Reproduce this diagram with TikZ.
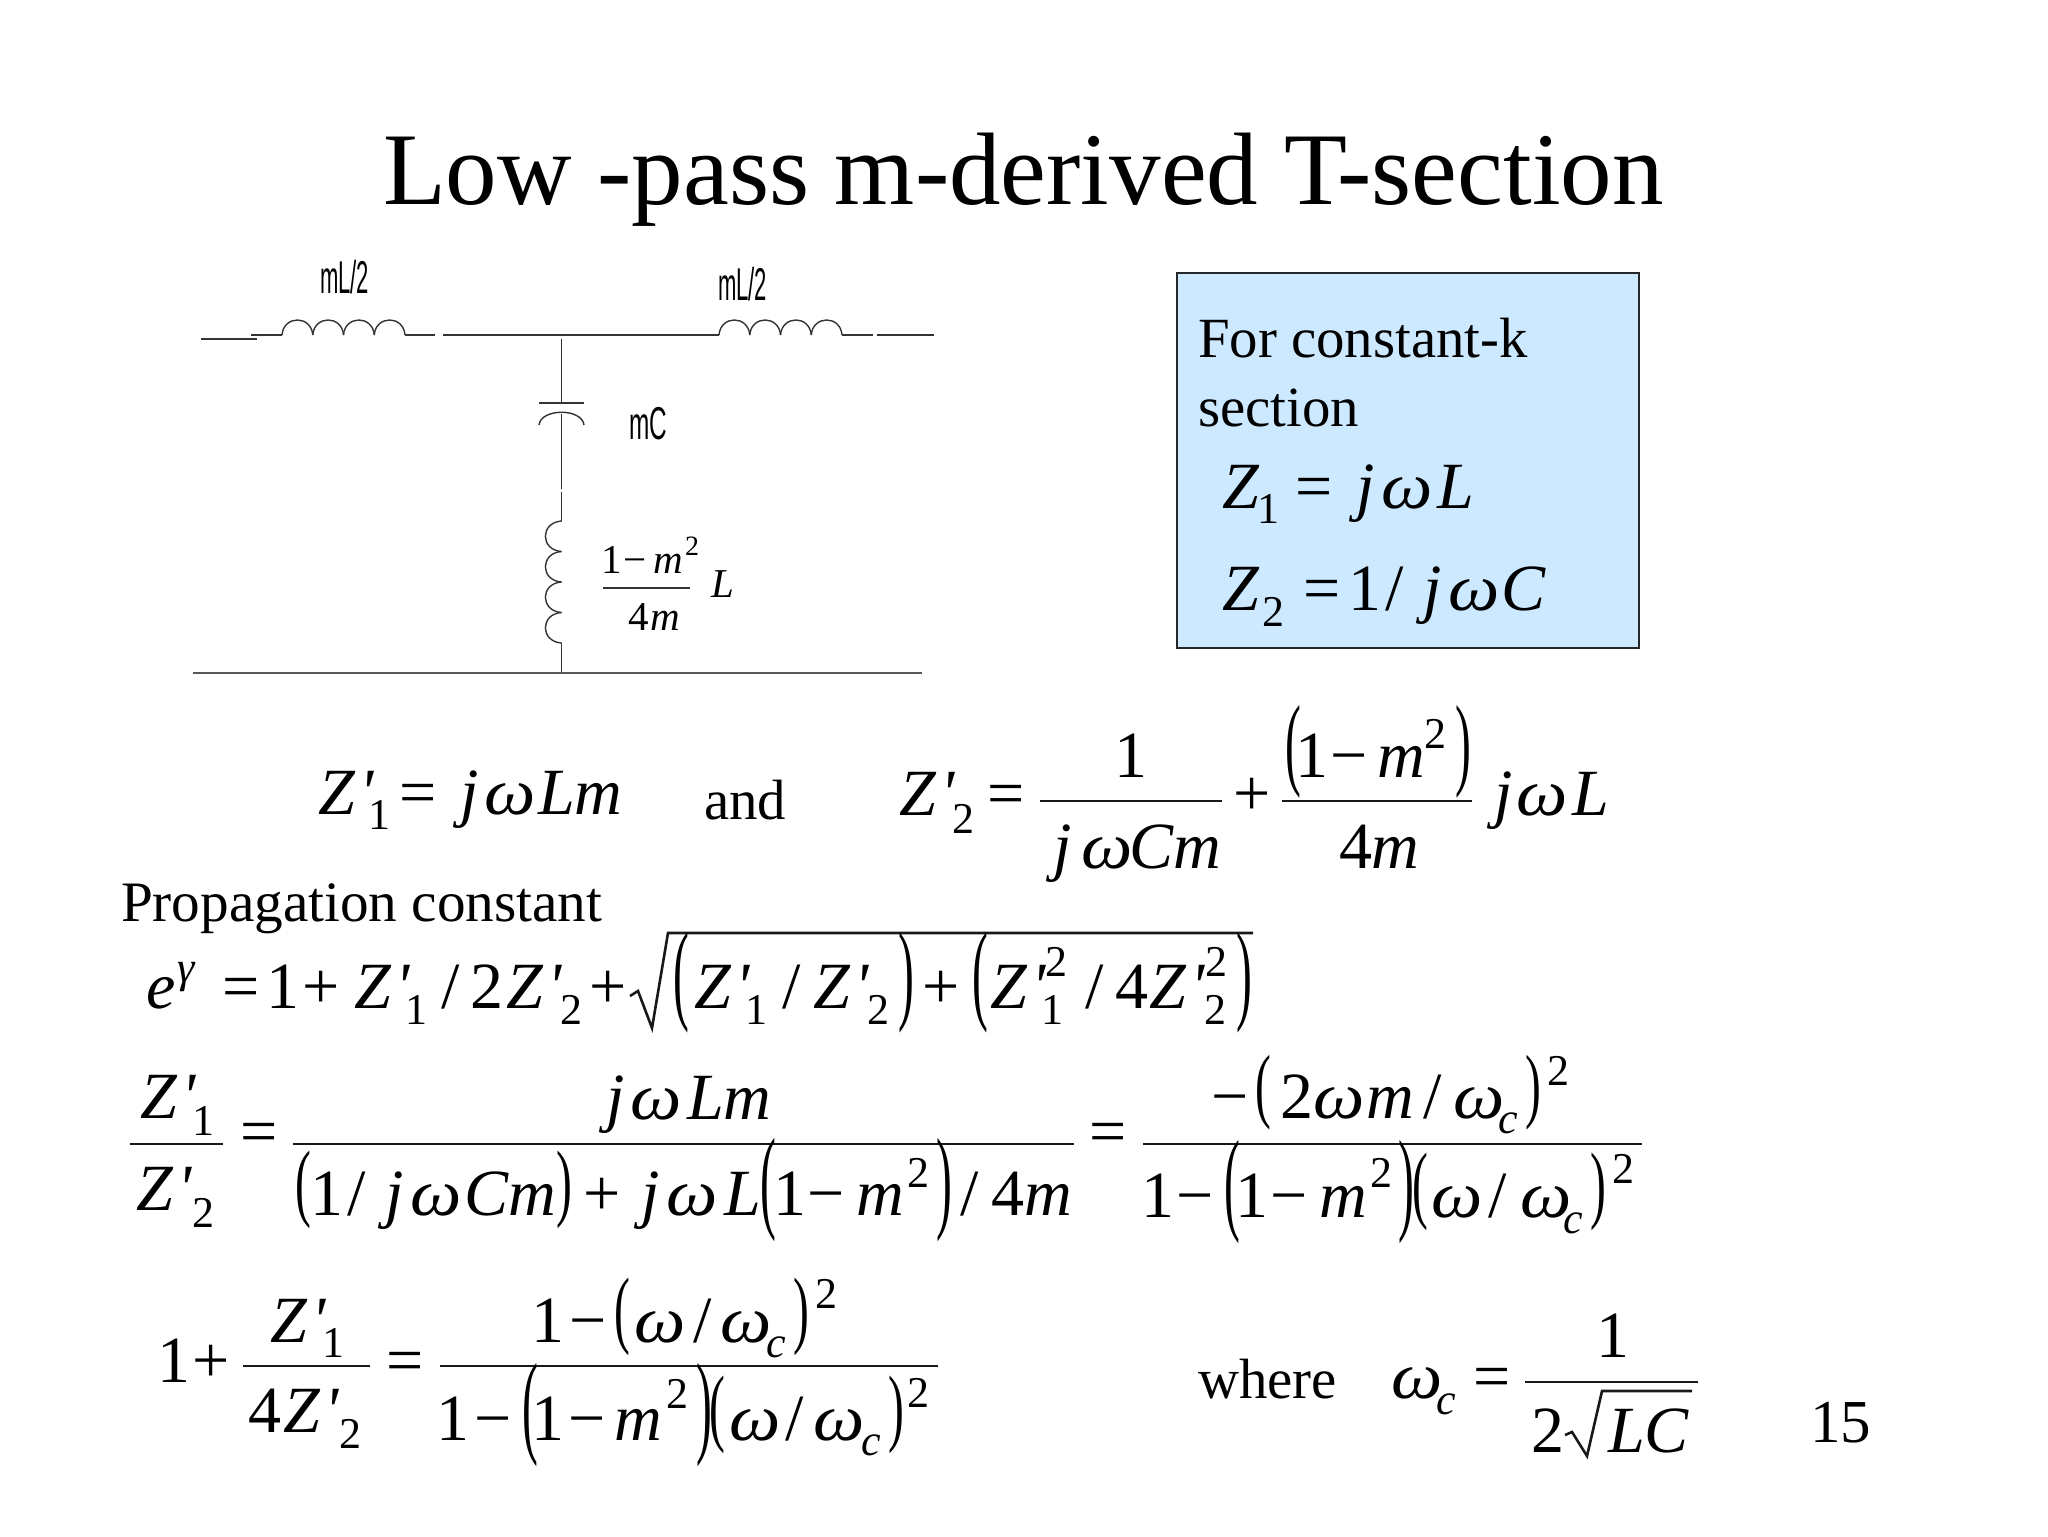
\documentclass[tikz,border=0pt]{standalone}
\usepackage{fontspec}
\setmainfont{Liberation Serif}
\newfontfamily\rawserif{Liberation Serif}
\newfontfamily\narrowsans{Liberation Sans}
\newcounter{tn}
\definecolor{boxblue}{HTML}{CCE9FF}
\definecolor{wire}{HTML}{333333}
\tikzset{
  tx/.style={anchor=base west,inner sep=0pt,outer sep=0pt},
  barline/.style={line width=1.3pt,black!90},
  wireline/.style={line width=0.7pt,wire},
  groundline/.style={line width=0.9pt,black!65},
}
\newcommand{\TX}[4][33]{\stepcounter{tn}\node[tx,font=\fontsize{#1}{#1}\selectfont] (t\thetn) at (#2,#3) {#4};}
\newcommand{\IT}[4][33]{\TX[#1]{#2}{#3}{\itshape #4}}
\newcommand{\OM}[3][33]{\TX[#1]{#2}{#3}{\itshape\scalebox{1.1}[1]{ω}}}
\newcommand{\PP}[5][33]{\pgfmathsetmacro\rr{.4-.25*#2}\TX[#1]{#3}{#4}{\raisebox{\rr em}{\scalebox{.72}[#2]{#5}}}}
\newcommand{\BAR}[3]{\draw[barline] (#1,#3) -- (#2,#3);}
\newcommand{\ZP}[3][33]{\TX[#1]{#2}{#3}{\itshape Z\rawserif\kern.07em\symbol{39}}}
\newcommand{\HCOIL}[2]{\foreach \k in {0,1,2,3}{\draw[wireline] ({#1+\k*30.75},#2) .. controls ({#1+\k*30.75+1.5},#2-20) and ({#1+\k*30.75+29.25},#2-20) .. ({#1+\k*30.75+30.75},#2);}}
\newcommand{\NAR}[5]{\stepcounter{tn}\node[tx,font=\fontsize{#4}{#4}\narrowsans] (t\thetn) at (#1,#2) {\scalebox{#3}[1]{#5}};}
\begin{document}
\begin{tikzpicture}[x=0.5pt,y=-0.5pt]
\useasboundingbox (0,0) rectangle (2048,1536);
\fill[white] (0,0) rectangle (2048,1536);
% title
\TX[51.5]{383}{204}{Low -pass m-derived T-section}
% circuit
\draw[wireline] (201,339) -- (257,339);
\draw[wireline] (251,335) -- (282,335);
\HCOIL{282}{335}
\draw[wireline] (405,335) -- (435,335);
\draw[wireline] (443,335) -- (719,335);
\HCOIL{719}{335}
\draw[wireline] (842,335) -- (873,335);
\draw[wireline] (877,335) -- (934,335);
\draw[wireline] (561.5,339) -- (561.5,403);
\draw[wireline] (539,403) -- (584,403);
\draw[wireline] (539,425) .. controls (541,408) and (582,408) .. (584,425);
\draw[wireline] (561.5,414) -- (561.5,489);
\draw[wireline] (561.5,492) -- (561.5,521);
\foreach \k in {0,1,2,3}{\draw[wireline] (561.5,{521+\k*30.5}) .. controls (540,{521+\k*30.5+1.5}) and (540,{521+\k*30.5+29}) .. (561.5,{521+\k*30.5+30.5});}
\draw[wireline] (561.5,643) -- (561.5,673);
\draw[groundline] (193,673) -- (922,673);
\NAR{320}{293}{.48}{23}{mL/2}
\NAR{718}{300}{.48}{23}{mL/2}
\NAR{629}{439}{.53}{23}{mC}
\TX[20.5]{601}{573}{1}
\TX[20.5]{623}{573}{−}
\IT[20.5]{653}{573}{m}
\TX[14]{685}{555}{2}
\draw[wireline] (603,588) -- (690,588);
\TX[20.5]{628}{630}{4}
\IT[20.5]{650}{630}{m}
\IT[20.5]{711}{597}{L}
% box
\draw[fill=boxblue,draw=black!85,line width=0.8pt] (1177,273) rectangle (1639,648);
\TX[28.4]{1198}{357}{For constant-k}
\TX[28.4]{1198}{426}{section}
\IT{1222}{508}{Z}
\TX[22]{1257}{523}{1}
\TX{1295}{508}{=}
\IT{1356}{508}{j}
\OM{1381}{508}
\IT{1437}{508}{L}
\IT{1222}{610}{Z}
\TX[22]{1262}{626}{2}
\TX{1303}{610}{=}
\TX{1348}{610}{1}
\TX{1385}{610}{/}
\IT{1423}{610}{j}
\OM{1448}{610}
\IT{1501}{610}{C}
% Z'1 = j w L m
\ZP{318}{814}
\TX[22]{368}{829}{1}
\TX{399}{814}{=}
\IT{460}{814}{j}
\OM{484}{814}
\IT{538}{814}{Lm}
\TX[28.4]{704}{819}{and}
% Z'2
\ZP{899}{815}
\TX[22]{952}{833}{2}
\TX{987}{815}{=}
\BAR{1040}{1222}{801}
\TX{1114}{777}{1}
\IT{1053}{868}{j}
\OM{1081}{868}
\IT{1129}{868}{Cm}
\TX{1233}{815}{+}
\BAR{1282}{1472}{801}
\PP{1.55}{1285}{777}{(}
\TX{1295}{777}{1}
\TX{1330}{777}{−}
\IT{1377}{777}{m}
\TX[22]{1424}{748}{2}
\PP{1.55}{1455}{777}{)}
\TX{1339}{868}{4}
\IT{1371}{868}{m}
\IT{1494}{815}{j}
\OM{1516}{815}
\IT{1572}{815}{L}
% propagation
\TX[28.6]{121}{921}{Propagation constant}
\IT{146}{1008}{e}
\IT[22]{177}{982}{γ}
\TX{222}{1008}{=}
\TX{266}{1008}{1}
\TX{302}{1008}{+}
\ZP{354}{1008}
\TX[22]{405}{1024}{1}
\TX{441}{1008}{/}
\TX{470}{1008}{2}
\ZP{506}{1008}
\TX[22]{560}{1024}{2}
\TX{589}{1008}{+}
\draw[barline] (630,996) -- (638,991) -- (652,1028) -- (668,933) -- (1253,933);
\PP{1.68}{673}{1008}{(}
\ZP{694}{1008}
\TX[22]{745}{1024}{1}
\TX{782}{1008}{/}
\ZP{813}{1008}
\TX[22]{867}{1024}{2}
\PP{1.68}{898}{1008}{)}
\TX{922}{1008}{+}
\PP{1.68}{972}{1008}{(}
\ZP{990}{1008}
\TX[22]{1041}{1024}{1}
\TX[22]{1045}{976}{2}
\TX{1085}{1008}{/}
\TX{1115}{1008}{4}
\ZP{1149}{1008}
\TX[22]{1204}{1024}{2}
\TX[22]{1205}{976}{2}
\PP{1.68}{1236}{1008}{)}
% ratio row
\BAR{130}{223}{1144}
\ZP{140}{1118}
\TX[22]{192}{1135}{1}
\ZP{136}{1210}
\TX[22]{192}{1227}{2}
\TX{240}{1153}{=}
\BAR{293}{1074}{1144}
\IT{606}{1119}{j}
\OM{630}{1119}
\IT{687}{1119}{Lm}
\PP{1.3}{295}{1215}{(}
\TX{310}{1215}{1}
\TX{347}{1215}{/}
\IT{385}{1215}{j}
\OM{410}{1215}
\IT{464}{1215}{Cm}
\PP{1.3}{556}{1215}{)}
\TX{583}{1215}{+}
\IT{641}{1215}{j}
\OM{666}{1215}
\IT{724}{1215}{L}
\PP{1.73}{760}{1215}{(}
\TX{773}{1215}{1}
\TX{807}{1215}{−}
\IT{856}{1215}{m}
\TX[22]{907}{1187}{2}
\PP{1.73}{936}{1215}{)}
\TX{960}{1215}{/}
\TX{991}{1215}{4}
\IT{1024}{1215}{m}
\TX{1089}{1153}{=}
\BAR{1143}{1642}{1144}
\TX{1211}{1118}{−}
\PP{1.25}{1255}{1118}{(}
\TX{1280}{1118}{2}
\OM{1313}{1118}
\IT{1366}{1118}{m}
\TX{1423}{1118}{/}
\OM{1453}{1118}
\IT[22]{1498}{1133}{c}
\PP{1.25}{1525}{1118}{)}
\TX[22]{1547}{1085}{2}
\TX{1141}{1217}{1}
\TX{1176}{1217}{−}
\PP{1.73}{1224}{1217}{(}
\TX{1235}{1217}{1}
\TX{1270}{1217}{−}
\IT{1319}{1217}{m}
\TX[22]{1370}{1187}{2}
\PP{1.73}{1398}{1217}{)}
\PP{1.3}{1412}{1217}{(}
\OM{1431}{1217}
\TX{1488}{1217}{/}
\OM{1520}{1217}
\IT[22]{1563}{1233}{c}
\PP{1.3}{1590}{1217}{)}
\TX[22]{1612}{1183}{2}
% last row
\TX{157}{1382}{1}
\TX{192}{1382}{+}
\BAR{243}{370}{1366}
\ZP{270}{1342}
\TX[22]{322}{1357}{1}
\TX{248}{1432}{4}
\ZP{283}{1432}
\TX[22]{339}{1448}{2}
\TX{386}{1382}{=}
\BAR{440}{938}{1366}
\TX{531}{1342}{1}
\TX{569}{1342}{−}
\PP{1.3}{614}{1342}{(}
\OM{634}{1342}
\TX{693}{1342}{/}
\OM{720}{1342}
\IT[22]{766}{1357}{c}
\PP{1.3}{793}{1342}{)}
\TX[22]{815}{1308}{2}
\TX{436}{1440}{1}
\TX{474}{1440}{−}
\PP{1.73}{522}{1440}{(}
\TX{531}{1440}{1}
\TX{568}{1440}{−}
\IT{614}{1440}{m}
\TX[22]{666}{1408}{2}
\PP{1.73}{696}{1440}{)}
\PP{1.3}{709}{1440}{(}
\OM{729}{1440}
\TX{785}{1440}{/}
\OM{813}{1440}
\IT[22]{861}{1455}{c}
\PP{1.3}{888}{1440}{)}
\TX[22]{907}{1407}{2}
% where
\TX[28.4]{1198}{1398}{where}
\OM{1391}{1398}
\IT[22]{1436}{1414}{c}
\TX{1473}{1398}{=}
\BAR{1525}{1698}{1382}
\TX{1596}{1357}{1}
\TX{1531}{1452}{2}
\draw[barline] (1565,1435) -- (1572,1432) -- (1587,1456) -- (1602,1391) -- (1692,1391);
\IT{1608}{1452}{LC}
\TX[30.5]{1810}{1442}{15}
\end{tikzpicture}
\end{document}
